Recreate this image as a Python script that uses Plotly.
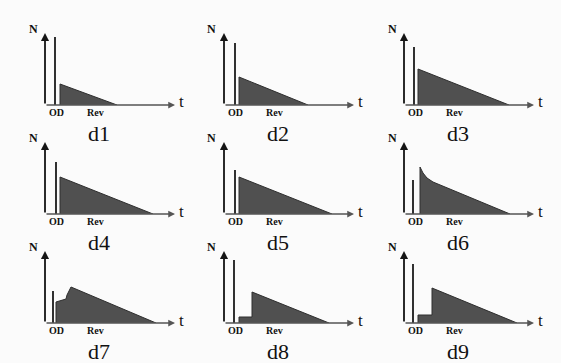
import plotly.graph_objects as go

W, H = 561, 363

# ---- data (t in arbitrary time units, N in arbitrary count units) ----
panel_names = ["d1", "d2", "d3", "d4", "d5", "d6", "d7", "d8", "d9"]
spike_t = [10, 11, 10, 11, 11, 9, 8, 10, 9]
spike_n = [68, 62, 58, 52, 44, 34, 32, 63, 59]
fill_t = [
    [15, 15, 72],
    [15, 15, 84],
    [14, 14, 105],
    [15, 15, 108],
    [15, 15, 108],
    [16, 16, 19, 23, 29, 106],
    [11, 11, 21, 22, 26, 111],
    [15, 15, 28, 28, 105],
    [14, 14, 28, 28, 113],
]
fill_n = [
    [0, 21, 0],
    [0, 28, 0],
    [0, 36, 0],
    [0, 37, 0],
    [0, 37, 0],
    [0, 47, 41, 36, 32, 0],
    [0, 21, 24, 28, 36, 0],
    [0, 6, 6, 31, 0],
    [0, 8, 8, 35, 0],
]
tick_labels = ["OD", "Rev"]
tick_pos = [11, 50]

# ---- layout geometry ----
T_MAX, N_MAX = 130, 72
col_axis_px = [45, 224, 404]
row_base_px = [105, 214, 323]

fig = go.Figure()
annotations = []
serif = "Liberation Serif"


def paper(x0, yb, t, n):
    return (x0 + t) / W, (H - yb + n) / H


def label(x0, yb, t, n, text, size):
    px, py = paper(x0, yb, t, n)
    annotations.append(dict(
        x=px, y=py, xref="paper", yref="paper", text=text,
        xanchor="center", yanchor="middle", showarrow=False, borderpad=0,
        font=dict(family=serif, size=size, color="#111")))


for i, name in enumerate(panel_names):
    r, c = divmod(i, 3)
    k = i + 1
    xa = "x" if k == 1 else f"x{k}"
    ya = "y" if k == 1 else f"y{k}"
    x0 = col_axis_px[c]
    yb = row_base_px[r]
    fig.update_layout({
        f"xaxis{'' if k == 1 else k}": dict(
            domain=[x0 / W, (x0 + T_MAX) / W], range=[0, T_MAX],
            visible=False, fixedrange=True, anchor=ya),
        f"yaxis{'' if k == 1 else k}": dict(
            domain=[(H - yb) / H, (H - yb + N_MAX) / H], range=[0, N_MAX],
            visible=False, fixedrange=True, anchor=xa),
    })
    # shaded area
    fig.add_trace(go.Scatter(
        x=fill_t[i], y=fill_n[i], mode="lines", fill="toself",
        fillcolor="#505050", line=dict(color="#2e2e2e", width=1),
        xaxis=xa, yaxis=ya, showlegend=False, hoverinfo="skip"))
    # OD spike
    fig.add_trace(go.Scatter(
        x=[spike_t[i], spike_t[i]], y=[0, spike_n[i]], mode="lines",
        line=dict(color="#1a1a1a", width=1.8),
        xaxis=xa, yaxis=ya, showlegend=False, hoverinfo="skip"))
    # axes with arrows
    annotations.append(dict(
        x=0, y=N_MAX, ax=0, ay=0, xref=xa, yref=ya, axref=xa, ayref=ya,
        showarrow=True, arrowhead=2, arrowsize=0.9, arrowwidth=1.8,
        arrowcolor="#151515", text="", standoff=0))
    annotations.append(dict(
        x=T_MAX, y=0, ax=0, ay=0, xref=xa, yref=ya, axref=xa, ayref=ya,
        showarrow=True, arrowhead=2, arrowsize=0.9, arrowwidth=1.5,
        arrowcolor="#555555", text="", standoff=0))
    # labels
    label(x0, yb, -12, N_MAX + 4, "<b>N</b>", 12)
    label(x0, yb, T_MAX + 6, 3, "t", 17)
    for lab, pos in zip(tick_labels, tick_pos):
        label(x0, yb, pos, -7.5, f"<b>{lab}</b>", 10)
    label(x0, yb, 54, -28, name, 22)

fig.update_layout(
    width=W, height=H, margin=dict(l=0, r=0, t=0, b=0),
    paper_bgcolor="#fbfbfb", plot_bgcolor="rgba(0,0,0,0)",
    annotations=annotations, showlegend=False,
)
fig.write_html("out.html", config={"displayModeBar": False})
